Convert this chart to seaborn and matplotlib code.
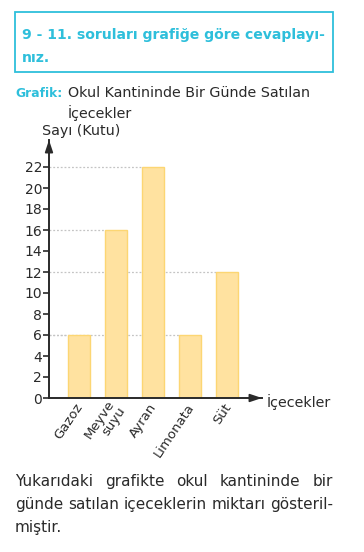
import matplotlib
matplotlib.use("Agg")
import matplotlib.pyplot as plt
import seaborn as sns
import pandas as pd
from matplotlib.patches import Rectangle

categories = ["Gazoz", "Meyve\nsuyu", "Ayran", "Limonata", "Süt"]
values = [6, 16, 22, 6, 12]
yticks = list(range(0, 23, 2))

title_lines = ["9 - 11. soruları grafiğe göre cevaplayı-", "nız."]
graph_label = "Grafik:"
graph_title = ["Okul Kantininde Bir Günde Satılan", "İçecekler"]
y_label = "Sayı (Kutu)"
x_label = "İçecekler"
caption_lines = ["Yukarıdaki grafikte okul kantininde bir",
                 "günde satılan içeceklerin miktarı gösteril-",
                 "miştir."]

sns.set_theme(style="white")
plt.rcParams['font.family'] = ['DejaVu Sans']

W, H = 364, 552
fig = plt.figure(figsize=(W / 100, H / 100), dpi=100)
fig.patch.set_facecolor("white")
fig.canvas.draw()
renderer = fig.canvas.get_renderer()

cyan = "#2EBFDB"
dark = "#2a2a2a"

def fx(px):
    return px / W

def fy(py):
    return 1 - py / H

def fit_size(text, width, weight="normal"):
    t = fig.text(0, 0, text, fontsize=10, fontweight=weight)
    w = t.get_window_extent(renderer).width
    t.remove()
    return 10 * width / w

# title box
fig.patches.append(Rectangle((fx(15), fy(72)), fx(333) - fx(15), fy(12) - fy(72),
                             transform=fig.transFigure, fill=False,
                             edgecolor=cyan, linewidth=1.3))
ts = fit_size(title_lines[0], 303, "bold")
fig.text(fx(22), fy(39), title_lines[0], color=cyan, fontsize=ts,
         fontweight="bold", va="baseline", ha="left")
fig.text(fx(22), fy(62), title_lines[1], color=cyan, fontsize=ts,
         fontweight="bold", va="baseline", ha="left")

gs = fit_size(graph_title[0], 243)
ls = fit_size(graph_label, 47, "bold")
fig.text(fx(15), fy(97), graph_label, color=cyan, fontsize=ls,
         fontweight="bold", va="baseline", ha="left")
fig.text(fx(68), fy(97), graph_title[0], color=dark, fontsize=gs,
         va="baseline", ha="left")
fig.text(fx(68), fy(118), graph_title[1], color=dark, fontsize=gs,
         va="baseline", ha="left")
fig.text(fx(42), fy(135), y_label, color=dark, fontsize=gs,
         va="baseline", ha="left")

# axes
ax_left, ax_right = 49, 262
ax_bottom, ax_top = 398, 140
ax = fig.add_axes([fx(ax_left), fy(ax_bottom), fx(ax_right) - fx(ax_left),
                   fy(ax_top) - fy(ax_bottom)])
ax.set_facecolor("white")

df = pd.DataFrame({"cat": categories, "val": values})
bw = 0.6
sns.barplot(data=df, x="cat", y="val", color="#FFE2A0", width=bw,
            edgecolor="#FCD673", linewidth=1.0, saturation=1, ax=ax, zorder=3)

xmin = -0.81
ax.set_xlim(xmin, 4.95)
ax.set_ylim(0, (ax_bottom - ax_top) / 10.5)

for i, v in enumerate(values):
    ax.hlines(v, xmin, i - bw / 2, colors="#c4c4c4", linestyles=(0, (1.5, 1.5)),
              linewidth=0.9, zorder=1)

for s in ["top", "right"]:
    ax.spines[s].set_visible(False)
for s in ["left", "bottom"]:
    ax.spines[s].set_color(dark)
    ax.spines[s].set_linewidth(1.4)
    ax.spines[s].set_zorder(4)

# arrows
astyle = "-|>,head_length=0.6,head_width=0.2"
ax.annotate("", xy=(0, 1.0), xytext=(0, 0.95), xycoords="axes fraction",
            arrowprops=dict(arrowstyle=astyle, color=dark, lw=1.2,
                            shrinkA=0, shrinkB=0),
            annotation_clip=False)
ax.annotate("", xy=(1.0, 0), xytext=(0.94, 0), xycoords="axes fraction",
            arrowprops=dict(arrowstyle=astyle, color=dark, lw=1.2,
                            shrinkA=0, shrinkB=0),
            annotation_clip=False)

ax.set_yticks(yticks)
ax.set_yticklabels([str(t) for t in yticks])
ax.tick_params(axis="y", direction="out", length=4, width=1.2, color=dark,
               labelsize=10, labelcolor=dark, pad=1, left=True)
ax.tick_params(axis="x", length=0, pad=4, labelsize=9.5, labelcolor=dark)
for lab in ax.get_xticklabels():
    lab.set_rotation(56)
    lab.set_ha("right")
    lab.set_va("center_baseline")
    lab.set_rotation_mode("anchor")
    lab.set_multialignment("right")
    lab.set_linespacing(1.0)
ax.set_xlabel("")
ax.set_ylabel("")

fig.text(fx(267), fy(407), x_label, color=dark, fontsize=gs,
         va="baseline", ha="left")

# caption (justified lines)
cs = fit_size(caption_lines[1], 318)
cap_y = [486, 509, 532]
x0, x1 = 15, 333
for li, line in enumerate(caption_lines):
    if li == len(caption_lines) - 1:
        fig.text(fx(x0), fy(cap_y[li]), line, color=dark, fontsize=cs,
                 va="baseline", ha="left")
        continue
    words = line.split(" ")
    texts = [fig.text(0, fy(cap_y[li]), w, color=dark, fontsize=cs,
                      va="baseline", ha="left") for w in words]
    widths = [t.get_window_extent(renderer).width for t in texts]
    gap = (x1 - x0 - sum(widths)) / (len(words) - 1)
    pos = x0
    for t, w in zip(texts, widths):
        t.set_x(fx(pos))
        pos += w + gap

fig.savefig("out.png", dpi=100, facecolor="white")
